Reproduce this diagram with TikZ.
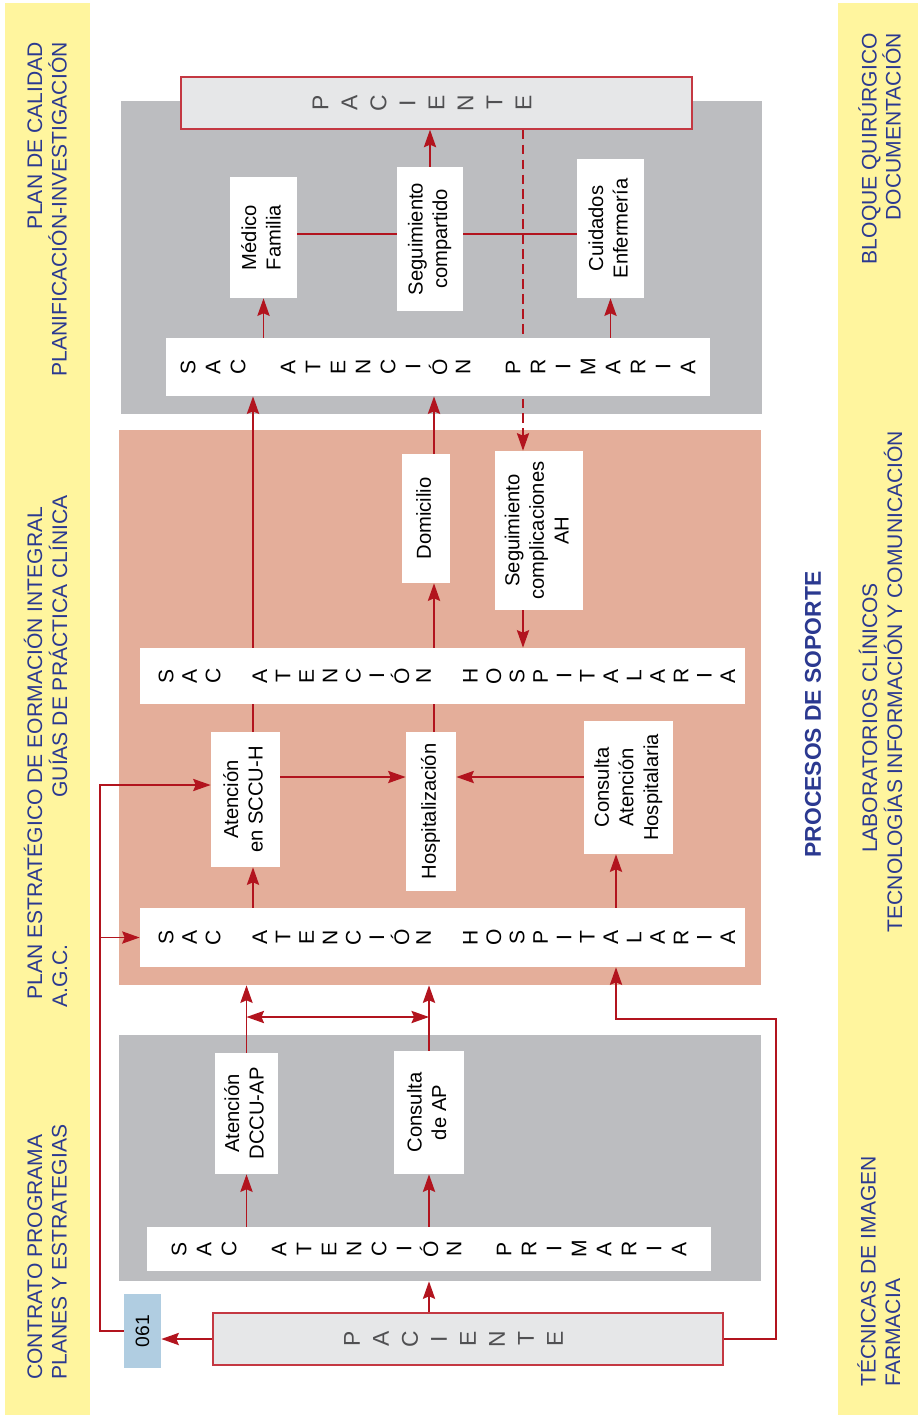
\documentclass[tikz,border=0pt]{standalone}
\usepackage{fontspec}
\setmainfont{Liberation Sans}
\usepackage{graphicx}
\usetikzlibrary{arrows.meta}

\pgfdeclarelayer{back}
\pgfdeclarelayer{wires}
\pgfsetlayers{back,wires,main}

\definecolor{stripyellow}{RGB}{255,245,158}
\definecolor{panelgray}{RGB}{188,189,192}
\definecolor{salmon}{RGB}{228,174,154}
\definecolor{pacfill}{RGB}{230,231,232}
\definecolor{pacred}{RGB}{196,56,66}
\definecolor{pacgray}{RGB}{80,80,82}
\definecolor{sideblue}{RGB}{43,57,144}
\definecolor{tagblue}{RGB}{176,205,225}
\definecolor{linered}{RGB}{178,20,30}

\newlength{\pxu}\setlength{\pxu}{0.02cm}
% rotated text block for the boxes
\newcommand{\rt}[1]{\rotatebox{90}{\begin{tabular}{@{}c@{}}#1\end{tabular}}}
% spaced, rotated letters
\newcommand{\spell}[2]{\foreach \letr in {#2}{\makebox[#1\pxu]{\raisebox{-0.5\height}{\rotatebox{90}{\letr}}}}}

\begin{document}
\begin{tikzpicture}[x=0.02cm,y=-0.02cm]
\tikzstyle{box}=[fill=white,inner sep=0pt,font=\fontsize{11.5}{14}\selectfont];
\tikzstyle{sacbar}=[fill=white,inner sep=0pt,font=\fontsize{12}{14}\selectfont];
\tikzstyle{pac}=[fill=pacfill,draw=pacred,line width=0.8pt,inner sep=0pt,text=pacgray,font=\fontsize{13}{14}\selectfont];
\tikzstyle{panel}=[inner sep=0pt];
\tikzstyle{sidetext}=[rotate=90,inner sep=0pt,text=sideblue,font=\fontsize{12}{14}\selectfont];
\tikzstyle{link}=[draw=linered,line width=0.85pt];
\tikzstyle{arr}=[link,-{Stealth[length=10pt,width=7pt,inset=1.5pt]}];
\tikzstyle{arr2}=[link,{Stealth[length=10pt,width=7pt,inset=1.5pt]}-{Stealth[length=10pt,width=7pt,inset=1.5pt]}];
\tikzstyle{thinline}=[line width=0.7pt];
\tikzset{wh/.style 2 args={minimum width=#1\pxu,minimum height=#2\pxu}}

\useasboundingbox (0,0) rectangle (920,1417);

\begin{pgfonlayer}{back}
\fill[stripyellow] (5,3) rectangle (90,1415);
\fill[stripyellow] (838,3) rectangle (918,1415);
\node[panel,fill=panelgray,wh={641}{313}] (panap1) at (441.5,257.5) {};
\node[panel,fill=salmon,wh={642}{555}] (panah) at (440,707.5) {};
\node[panel,fill=panelgray,wh={642}{246}] (panap2) at (440,1158) {};
\end{pgfonlayer}

% side texts
\node[sidetext,align=right,anchor=north east] (calidad) at (27,42) {PLAN DE CALIDAD\\PLANIFICACIÓN-INVESTIGACIÓN};
\node[sidetext,anchor=north west] (estrat) at (23.5,1000) {PLAN ESTRATÉGICO DE EORMACIÓN INTEGRAL};
\node[sidetext,anchor=north west] (agc) at (52,1008) {A.G.C.};
\node[sidetext,anchor=north east] (guias) at (48.5,495) {GUÍAS DE PRÁCTICA CLÍNICA};
\node[sidetext,align=left,anchor=north west] (contrato) at (27,1380) {CONTRATO PROGRAMA\\PLANES Y ESTRATEGIAS};
\node[sidetext,align=right,anchor=north east,font=\fontsize{12}{12.5}\selectfont] (bloque) at (858,33) {BLOQUE QUIRÚRGICO\\DOCUMENTACIÓN};
\node[sidetext] (labor) at (868,718) {LABORATORIOS CLÍNICOS};
\node[sidetext] (tecno) at (893,681.5) {TECNOLOGÍAS INFORMACIÓN Y COMUNICACIÓN};
\node[sidetext,font=\bfseries\fontsize{13}{14}\selectfont] (soporte) at (813,714.5) {PROCESOS DE SOPORTE};
\node[sidetext,align=left,anchor=north west] (tecnicas) at (857,1387) {TÉCNICAS DE IMAGEN\\FARMACIA};

% patient boxes
\node[pac,wh={511}{52}] (pactop) at (436.5,103) {\spell{29}{P,A,C,I,E,N,T,E,{}}};
\node[pac,wh={510}{52}] (pacbot) at (468,1339) {\spell{29}{P,A,C,I,E,N,T,E,{}}};
\node[fill=tagblue,inner sep=0pt,wh={37}{74},font=\fontsize{11}{13}\selectfont] (n061) at (142.5,1331) {\rotatebox{90}{061}};

% SAC bars
\node[sacbar,wh={544}{58}] (sacap1) at (438,367) {\spell{25}{S,A,C,{},A,T,E,N,C,I,Ó,N,{},P,R,I,M,A,R,I,A}};
\node[sacbar,wh={605}{56}] (sacah1) at (442.5,676) {\hspace*{9\pxu}\spell{23.4}{S,A,C,{},A,T,E,N,C,I,Ó,N,{},H,O,S,P,I,T,A,L,A,R,I,A}};
\node[sacbar,wh={605}{59}] (sacah2) at (442.5,937.5) {\hspace*{9\pxu}\spell{23.4}{S,A,C,{},A,T,E,N,C,I,Ó,N,{},H,O,S,P,I,T,A,L,A,R,I,A}};
\node[sacbar,wh={564}{44}] (sacap2) at (429,1249) {\spell{25}{S,A,C,{},A,T,E,N,C,I,Ó,N,{},P,R,I,M,A,R,I,A}};

% primary care, top
\node[box,wh={67}{121}] (medico) at (263.5,237.5) {\rt{Médico\\Familia}};
\node[box,wh={66}{144}] (segcomp) at (430,239) {\rt{Seguimiento\\compartido}};
\node[box,wh={67}{139}] (cuidados) at (610.5,228.5) {\rt{Cuidados\\Enfermería}};

% hospital
\node[box,wh={48}{129}] (domicilio) at (426,518.5) {\rt{Domicilio}};
\node[box,wh={88}{159}] (segcompl) at (539,530.5) {\rt{Seguimiento\\complicaciones\\AH}};
\node[box,wh={69}{135}] (sccuh) at (245.5,799.5) {\rt{Atención\\en SCCU-H}};
\node[box,wh={50}{159}] (hosp) at (431,811.5) {\rt{Hospitalización}};
\node[box,wh={89}{133}] (consah) at (628.5,787.5) {\rt{Consulta\\Atención\\Hospitalaria}};

% primary care, bottom
\node[box,wh={63}{121}] (dccuap) at (246.5,1113.5) {\rt{Atención\\DCCU-AP}};
\node[box,wh={70}{123}] (consap) at (429,1112.5) {\rt{Consulta\\de AP}};

\coordinate (colA) at (253,0);
\coordinate (colB) at (434,0);
\coordinate (colC) at (616,0);
\coordinate (colD) at (523,0);
\coordinate (rowT) at (0,234);
\coordinate (rowA) at (0,777);
\coordinate (rowB) at (0,1017);
\coordinate (lft) at (100,785);
\coordinate (rgt) at (776,1019);

\begin{pgfonlayer}{wires}
\draw[arr] (segcomp.north) -- (pactop.south -| segcomp.north);
\draw[link] (medico.east |- rowT) -- (segcomp.west |- rowT);
\draw[link] (segcomp.east |- rowT) -- (cuidados.west |- rowT);
\draw[arr] (sacap1.north -| medico.south) -- (medico.south);
\draw[arr] (sacap1.north -| cuidados.south) -- (cuidados.south);
\draw[arr,line width=0.7pt,dash pattern=on 5.5pt off 3pt] (pactop.south -| colD) -- (segcompl.north -| colD);
\draw[arr] (segcompl.south -| colD) -- (sacah1.north -| colD);
\draw[arr] (sccuh.north -| colA) -- (sacap1.south -| colA);
\draw[arr] (hosp.north -| colB) -- (domicilio.south -| colB);
\draw[arr] (domicilio.north -| colB) -- (sacap1.south -| colB);
\draw[arr] (sccuh.east |- rowA) -- (hosp.west |- rowA);
\draw[arr] (consah.west |- rowA) -- (hosp.east |- rowA);
\draw[arr] (sacah2.north -| colA) -- (sccuh.south -| colA);
\draw[arr] (sacah2.north -| colC) -- (consah.south -| colC);
\draw[arr,thinline] (n061.west) -| (lft) -- (lft -| sccuh.west);
\draw[arr,thinline] (lft |- sacah2.west) -- (sacah2.west);
\draw[arr] (pacbot.west) -- (pacbot.west -| n061.east);
\draw[arr] (pacbot.north -| consap.south) -- (panap2.south -| consap.south);
\draw[arr] (sacap2.north -| dccuap.south) -- (dccuap.south);
\draw[arr] (sacap2.north -| consap.south) -- (consap.south);
\draw[arr] (dccuap.north) -- (panah.south -| dccuap.north);
\draw[arr] (consap.north) -- (panah.south -| consap.north);
\draw[arr2] (dccuap.north |- rowB) -- (consap.north |- rowB);
\draw[arr,thinline] (pacbot.east) -| (rgt) -| (sacah2.south -| colC);
\end{pgfonlayer}
\end{tikzpicture}
\end{document}
